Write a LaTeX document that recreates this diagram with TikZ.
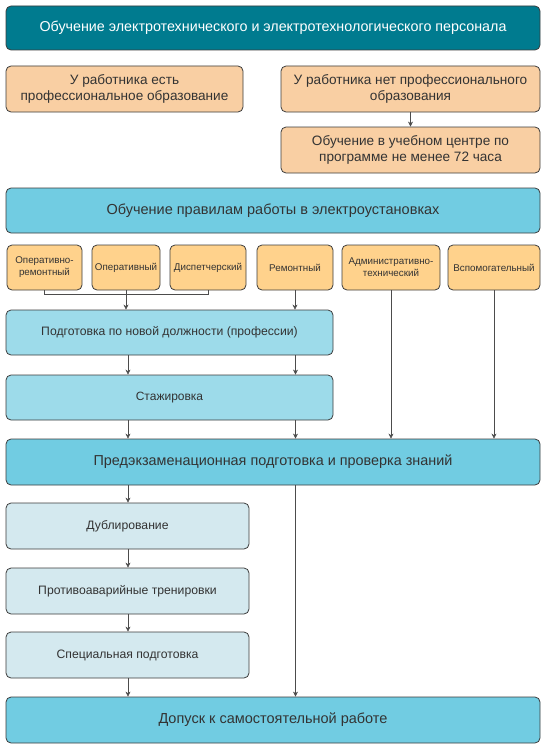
\documentclass[tikz,border=0pt]{standalone}
\usepackage{fontspec}
\setmainfont{Liberation Sans}
\usetikzlibrary{arrows.meta}
\definecolor{tealbox}{HTML}{007B8F}
\definecolor{peach}{HTML}{F9CFA3}
\definecolor{amber}{HTML}{FFD28C}
\definecolor{skyblue}{HTML}{71CCE2}
\definecolor{paleblue}{HTML}{9DDBEA}
\definecolor{iceblue}{HTML}{D4E9EF}
\definecolor{edge}{HTML}{3C3C3C}
\definecolor{txt}{HTML}{333333}
\tikzset{
  box/.style={draw=edge, line width=0.8pt, rounded corners=5pt, align=center, inner sep=1pt, text=txt},
  arr/.style={draw=black!70, line width=0.6pt, -{Stealth[length=5pt,width=5pt]}},
  link/.style={draw=black!70, line width=0.6pt}
}
\begin{document}
\begin{tikzpicture}[x=1pt,y=-1pt]
        \useasboundingbox (0,0) rectangle (547,752);
        \node[box, fill=tealbox, text=white, minimum width=534pt, minimum height=44pt, font=\fontsize{14.3}{16}\selectfont] (title) at (273,28) {Обучение электротехнического и электротехнологического персонала};
        % Education of the worker
        \node[box, fill=peach, minimum width=237pt, minimum height=46pt, font=\fontsize{13.6}{16}\selectfont] (have) at (124.5,89) {У работника есть\\профессиональное образование};
        \node[box, fill=peach, minimum width=259pt, minimum height=46pt, font=\fontsize{13.6}{16}\selectfont] (nothave) at (410.5,89) {У работника нет профессионального\\образования};
        \node[box, fill=peach, minimum width=259pt, minimum height=46pt, font=\fontsize{13.6}{16}\selectfont] (centre) at (410.5,150) {Обучение в учебном центре по\\программе не менее 72 часа};

        \node[box, fill=skyblue, minimum width=534pt, minimum height=45pt, font=\fontsize{14.5}{17}\selectfont] (rules) at (273,210.5) {Обучение правилам работы в электроустановках};
        % Categories of staff
        \node[box, fill=amber, minimum width=75pt, minimum height=45pt, font=\fontsize{9.8}{12}\selectfont] (oprem) at (44.5,267.5) {Оперативно-\\ремонтный};
        \node[box, fill=amber, minimum width=68pt, minimum height=45pt, font=\fontsize{9.8}{12}\selectfont] (oper) at (126,267.5) {Оперативный};
        \node[box, fill=amber, minimum width=76pt, minimum height=45pt, font=\fontsize{9.8}{12}\selectfont] (disp) at (208,267.5) {Диспетчерский};
        \node[box, fill=amber, minimum width=76pt, minimum height=45pt, font=\fontsize{9.8}{12}\selectfont] (rem) at (295,267.5) {Ремонтный};
        \node[box, fill=amber, minimum width=98pt, minimum height=45pt, font=\fontsize{9.8}{12}\selectfont] (adm) at (391,267.5) {Административно-\\технический};
        \node[box, fill=amber, minimum width=92pt, minimum height=45pt, font=\fontsize{9.8}{12}\selectfont] (aux) at (494,267.5) {Вспомогательный};

        \node[box, fill=paleblue, minimum width=327pt, minimum height=45pt, font=\fontsize{12.2}{14}\selectfont] (newjob) at (169.5,332.5) {Подготовка по новой должности (профессии)};
        \node[box, fill=paleblue, minimum width=327pt, minimum height=45pt, font=\fontsize{12}{14}\selectfont] (intern) at (169.5,397.5) {Стажировка};
        \node[box, fill=skyblue, minimum width=534pt, minimum height=46pt, font=\fontsize{14.4}{17}\selectfont] (exam) at (273,462) {Предэкзаменационная подготовка и проверка знаний};
        % Operational staff only
        \node[box, fill=iceblue, minimum width=243pt, minimum height=46pt, font=\fontsize{12.2}{14}\selectfont] (dub) at (127.5,526) {Дублирование};
        \node[box, fill=iceblue, minimum width=243pt, minimum height=46pt, font=\fontsize{12.2}{14}\selectfont] (drill) at (127.5,591) {Противоаварийные тренировки};
        \node[box, fill=iceblue, minimum width=243pt, minimum height=46pt, font=\fontsize{12.2}{14}\selectfont] (spec) at (127.5,655) {Специальная подготовка};
        \node[box, fill=skyblue, minimum width=534pt, minimum height=46pt, font=\fontsize{14.5}{17}\selectfont] (admit) at (273,720) {Допуск к самостоятельной работе};

        \coordinate (colA) at (128,0);
        \coordinate (colB) at (295.5,0);
        % Connectors
        \draw[arr] (nothave.south) -- (centre.north);
        \draw[link] (oprem.south) -- ++(0,4) -| (disp.south);
        \draw[arr] (oper.south) -- (oper.south |- newjob.north);
        \draw[arr] (rem.south) -- (rem.south |- newjob.north);
        \draw[arr] (newjob.south -| colA) -- (intern.north -| colA);
        \draw[arr] (newjob.south -| colB) -- (intern.north -| colB);
        \draw[arr] (intern.south -| colA) -- (exam.north -| colA);
        \draw[arr] (intern.south -| colB) -- (exam.north -| colB);
        \draw[arr] (adm.south) -- (adm.south |- exam.north);
        \draw[arr] (aux.south) -- (aux.south |- exam.north);
        \draw[arr] (exam.south -| colA) -- (dub.north -| colA);
        \draw[arr] (dub.south -| colA) -- (drill.north -| colA);
        \draw[arr] (drill.south -| colA) -- (spec.north -| colA);
        \draw[arr] (spec.south -| colA) -- (admit.north -| colA);
        \draw[arr] (exam.south -| colB) -- (admit.north -| colB);
    \end{tikzpicture}
\end{document}
